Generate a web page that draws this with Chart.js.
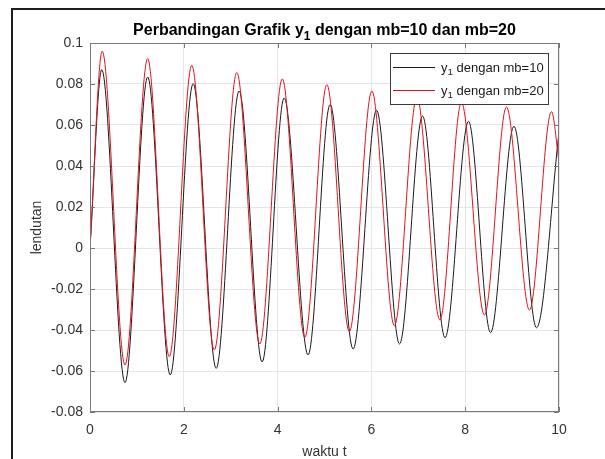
<!DOCTYPE html>
<html>
<head>
<meta charset="utf-8">
<script src="https://cdn.jsdelivr.net/npm/chart.js@4.4.1/dist/chart.umd.min.js"></script>
<style>
  html, body { margin: 0; padding: 0; background: #fff; }
  #wrap { position: relative; width: 605px; height: 459px; }
  #frame { position: absolute; left: 11px; top: 8px; right: 0; bottom: 0;
           border-top: 2px solid #1e1e1e; border-left: 2px solid #1e1e1e; pointer-events: none; }
</style>
</head>
<body>
<div id="wrap">
  <canvas id="myChart" width="605" height="459"></canvas>
  <div id="frame"></div>
</div>
<script>
// data: peaks / troughs of each curve
const t10 = [0, 0.25, 0.746, 1.23, 1.71, 2.20, 2.69, 3.18, 3.67, 4.14, 4.65, 5.12, 5.61, 6.11, 6.60, 7.09, 7.57, 8.07, 8.54, 9.04, 9.52, 10];
const y10 = [0, 0.087, -0.0657, 0.0834, -0.0619, 0.0802, -0.0587, 0.0766, -0.0556, 0.0732, -0.0522, 0.0700, -0.0493, 0.0672, -0.0468, 0.0644, -0.0438, 0.0618, -0.0413, 0.0594, -0.0389, 0.0566];

const t20 = [0, 0.26, 0.746, 1.23, 1.69, 2.17, 2.65, 3.13, 3.62, 4.10, 4.58, 5.05, 5.53, 6.01, 6.49, 6.97, 7.46, 7.92, 8.41, 8.88, 9.37, 9.84, 10];
const y20 = [0, 0.096, -0.0571, 0.0924, -0.0530, 0.0891, -0.0498, 0.0856, -0.0468, 0.0825, -0.0436, 0.0797, -0.0408, 0.0766, -0.0379, 0.0735, -0.0351, 0.0710, -0.0327, 0.0688, -0.0303, 0.0665, 0.042];

const xTicks = [0, 2, 4, 6, 8, 10];
const yTicks = [-0.08, -0.06, -0.04, -0.02, 0, 0.02, 0.04, 0.06, 0.08, 0.1];

const titleParts = ["Perbandingan Grafik y", "1", " dengan mb=10 dan mb=20"];
const legendParts = [["y", "1", " dengan mb=10"], ["y", "1", " dengan mb=20"]];

const FONT = "'Liberation Sans', Arial, Helvetica, sans-serif";
const AXIS = "#7a7a7a";

function pts(xs, ys) {
    return xs.map((x, i) => ({ x: x, y: ys[i] }));
}

// text with a subscript in the middle: [before, sub, after]
function drawSub(ctx, parts, x, y, size, bold, align) {
    const f = (s) => (bold ? "bold " : "") + s + "px " + FONT;
    ctx.font = f(size);
    const w0 = ctx.measureText(parts[0]).width;
    const w2 = ctx.measureText(parts[2]).width;
    ctx.font = f(size * 0.75);
    const w1 = ctx.measureText(parts[1]).width;
    let sx = x;
    if (align === "center") sx = x - (w0 + w1 + w2) / 2;
    ctx.textAlign = "left";
    ctx.textBaseline = "alphabetic";
    ctx.font = f(size);
    ctx.fillText(parts[0], sx, y);
    ctx.font = f(size * 0.75);
    ctx.fillText(parts[1], sx + w0, y + size * 0.3);
    ctx.font = f(size);
    ctx.fillText(parts[2], sx + w0 + w1, y);
}

const boxPlugin = {
    id: "boxPlugin",
    afterDatasetsDraw(chart) {
        const ctx = chart.ctx;
        const a = chart.chartArea;
        const xs = chart.scales.x, ys = chart.scales.y;
        ctx.save();
        ctx.strokeStyle = AXIS;
        ctx.lineWidth = 1;
        ctx.strokeRect(a.left + 0.5, a.top + 0.5, a.right - a.left - 1, a.bottom - a.top - 1);
        ctx.beginPath();
        xTicks.forEach((v) => {
            const px = Math.round(xs.getPixelForValue(v)) + 0.5;
            ctx.moveTo(px, a.bottom); ctx.lineTo(px, a.bottom - 5);
            ctx.moveTo(px, a.top); ctx.lineTo(px, a.top + 5);
        });
        yTicks.forEach((v) => {
            const py = Math.round(ys.getPixelForValue(v)) + 0.5;
            ctx.moveTo(a.left, py); ctx.lineTo(a.left + 5, py);
            ctx.moveTo(a.right, py); ctx.lineTo(a.right - 5, py);
        });
        ctx.stroke();

        // legend box, top right inside the axes
        const lx = 390, ly = 53, lw = 158, lh = 51;
        ctx.fillStyle = "#fff";
        ctx.fillRect(lx, ly, lw, lh);
        ctx.strokeStyle = "#3a3a3a";
        ctx.strokeRect(lx + 0.5, ly + 0.5, lw, lh);
        chart.data.datasets.forEach((ds, i) => {
            const yy = ly + 14 + i * 23;
            ctx.strokeStyle = ds.borderColor;
            ctx.lineWidth = 1;
            ctx.beginPath();
            ctx.moveTo(lx + 3, yy + 0.5);
            ctx.lineTo(lx + 45, yy + 0.5);
            ctx.stroke();
            ctx.fillStyle = "#1a1a1a";
            drawSub(ctx, legendParts[i], lx + 51, yy + 4.5, 13, false, "left");
        });

        // title
        ctx.fillStyle = "#000";
        drawSub(ctx, titleParts, (a.left + a.right) / 2, 35, 16, true, "center");
        ctx.restore();
    },
};

var ctx = document.getElementById("myChart").getContext("2d");
const myChart = new Chart(ctx, {
    type: "line",
    data: {
        datasets: [
            {
                label: "y1 dengan mb=10",
                data: pts(t10, y10),
                borderColor: "#1a1a1a",
                borderWidth: 1,
                pointRadius: 0,
                cubicInterpolationMode: "monotone",
                order: 1,
            },
            {
                label: "y1 dengan mb=20",
                data: pts(t20, y20),
                borderColor: "#e0141c",
                borderWidth: 1,
                pointRadius: 0,
                cubicInterpolationMode: "monotone",
                order: 0,
            },
        ],
    },
    options: {
        responsive: false,
        animation: false,
        layout: { padding: { left: 29, right: 46, top: 43, bottom: 0 } },
        plugins: {
            legend: { display: false },
            title: { display: false },
            tooltip: { enabled: false },
        },
        scales: {
            x: {
                type: "linear",
                min: 0,
                max: 10,
                afterFit: (s) => { s.height = 47; },
                afterBuildTicks: (s) => { s.ticks = xTicks.map((v) => ({ value: v })); },
                grid: { color: "#e6e6e6", drawTicks: false },
                border: { display: false },
                ticks: { font: { family: FONT, size: 14 }, color: "#333", padding: 10, maxRotation: 0 },
                title: { display: true, text: "waktu t", font: { family: FONT, size: 14 }, color: "#333", padding: { top: 0, bottom: -2 } },
            },
            y: {
                type: "linear",
                min: -0.08,
                max: 0.1,
                afterFit: (s) => { s.width = 61; },
                afterBuildTicks: (s) => { s.ticks = yTicks.map((v) => ({ value: v })); },
                grid: { color: "#e6e6e6", drawTicks: false },
                border: { display: false },
                ticks: {
                    font: { family: FONT, size: 14 },
                    color: "#333",
                    padding: 7,
                    callback: (v) => String(parseFloat(Number(v).toFixed(2))),
                },
                title: { display: true, text: "lendutan", font: { family: FONT, size: 14 }, color: "#333", padding: 0 },
            },
        },
    },
    plugins: [boxPlugin],
});
</script>
</body>
</html>
